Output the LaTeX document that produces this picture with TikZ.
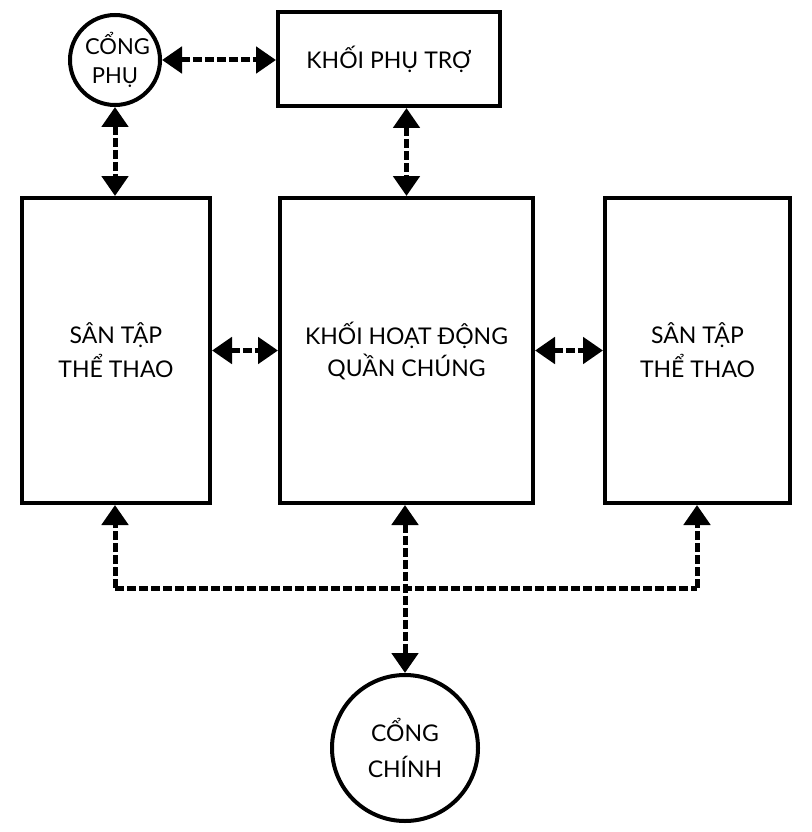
\documentclass[tikz,border=0pt]{standalone}
\usepackage{fontspec}
\setmainfont{Lato}
\usetikzlibrary{arrows.meta}
\begin{document}
\begin{tikzpicture}[x=1pt,y=-1pt,
  blk/.style={draw, line width=4pt, inner sep=0pt, align=center,
    font=\fontsize{23}{34}\selectfont},
  gate/.style={draw, circle, line width=4pt, inner sep=0pt, align=center},
  link/.style={line width=5pt, dash pattern=on 9pt off 3pt,
    {Triangle[width=26pt,length=20pt]}-{Triangle[width=26pt,length=20pt]}},
  bus/.style={line width=5pt, dash pattern=on 9pt off 3pt}]
\useasboundingbox (0,0) rectangle (811,832);
\node[blk, minimum width=222pt, minimum height=94pt] (pt) at (389,59) {KHỐI PHỤ TRỢ};
\node[blk, minimum width=188pt, minimum height=305pt] (lb) at (116,350.5) {SÂN TẬP\\THỂ THAO};
\node[blk, minimum width=253pt, minimum height=305pt, font=\fontsize{23}{32}\selectfont] (mb) at (406.5,350.5) {KHỐI HOẠT ĐỘNG\\QUẦN CHÚNG};
\node[blk, minimum width=185pt, minimum height=305pt] (rb) at (697.5,350.5) {SÂN TẬP\\THỂ THAO};
\node[gate, minimum size=90pt, text width=60pt, font=\fontsize{22}{29}\selectfont] (cp) at (115,60) {CỔNG\\PHỤ};
\node[gate, minimum size=146pt, font=\fontsize{23}{36}\selectfont] (cc) at (405,748) {CỔNG\\CHÍNH};
\coordinate (busl) at (115,588);
\coordinate (busr) at (697,588);
\draw[link] (cp.east) -- (pt.west |- cp.east);
\draw[link] (cp.south) -- (cp.south |- lb.north);
\draw[link] (pt.south -| mb.north) -- (mb.north);
\draw[link] (lb.east) -- (mb.west);
\draw[link] (mb.east) -- (rb.east -| rb.west);
\draw[bus] (busl) -- (busr);
\draw[link, -{Triangle[width=26pt,length=20pt]}] (busl) -- (busl |- lb.south);
\draw[link, -{Triangle[width=26pt,length=20pt]}] (busr) -- (busr |- rb.south);
\draw[link] (mb.south -| cc.north) -- (cc.north);
\end{tikzpicture}
\end{document}
